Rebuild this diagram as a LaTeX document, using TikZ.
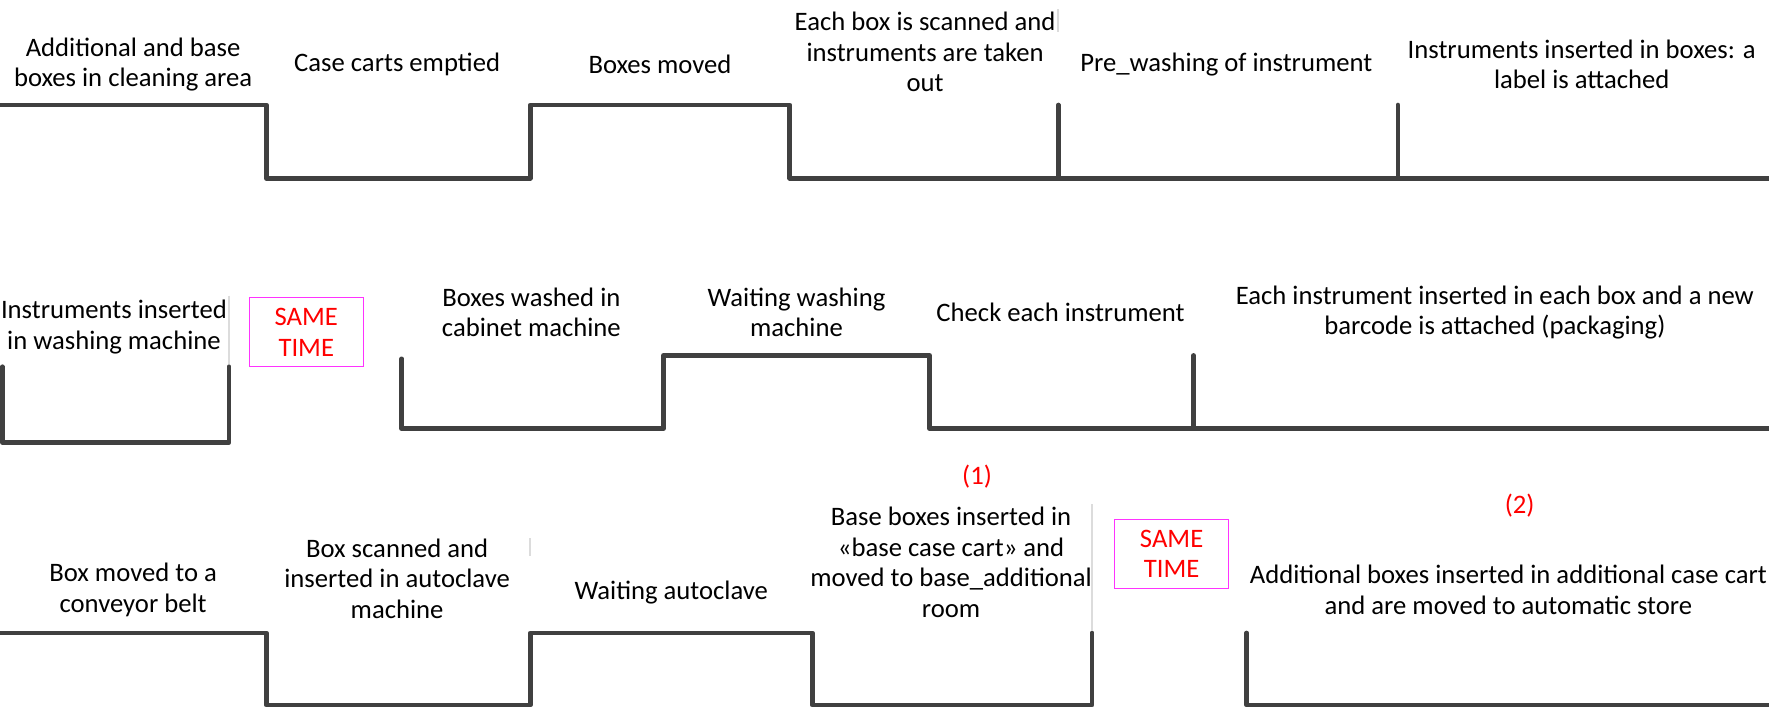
\documentclass[tikz,border=0pt]{standalone}
\usepackage{fontspec}
\setmainfont{Carlito}
\definecolor{wavec}{HTML}{404040}
\definecolor{faint}{HTML}{DCDCDC}
\definecolor{samered}{HTML}{FF0000}
\definecolor{sameborder}{HTML}{FF33FF}
\begin{document}
\begin{tikzpicture}[x=0.84615pt,y=-0.84615pt,
  wave/.style={draw=wavec,line width=3.4pt,line join=round,line cap=round},
  faintline/.style={draw=faint,line width=1.6pt},
  lbl/.style={align=center,inner sep=0pt,font=\fontsize{20pt}{22.85pt}\selectfont},
  redlbl/.style={align=center,inner sep=0pt,text=samered,font=\fontsize{20pt}{22.85pt}\selectfont},
  samebox/.style={draw=sameborder,line width=0.8pt,minimum width=101*0.84615pt,minimum height=61*0.84615pt,inner sep=0pt,align=center,text=samered,font=\fontsize{20pt}{22.85pt}\selectfont}]
\useasboundingbox (0,0) rectangle (1568,627);
% ---- row 1 ----
\draw[wave] (-5,93) -- (236,93) -- (236,158) -- (470,158) -- (470,93) -- (700,93) -- (700,158) -- (1575,158);
\draw[wave] (938,93) -- (938,158);
\draw[wave] (1239,93) -- (1239,158);
\draw[faintline] (938,8) -- (938,28);
\node[lbl] (a1) at (118,57) {Additional and base\\boxes in cleaning area};
\node[lbl] (a2) at (352,57) {Case carts emptied};
\node[lbl] (a3) at (585,57) {Boxes moved};
\node[lbl] (a4) at (820,46) {Each box is scanned and\\instruments are taken\\out};
\node[lbl] (a5) at (1087,57) {Pre\_washing of instrument};
\node[lbl] (a6) at (1402,57) {Instruments inserted in boxes: a\\label is attached};
% ---- row 2 ----
\draw[wave] (2,325) -- (2,392) -- (203,392) -- (203,325);
\draw[faintline] (203,262) -- (203,323);
\draw[wave] (356,318) -- (356,380) -- (588,380) -- (588,315) -- (824,315) -- (824,380) -- (1575,380);
\draw[wave] (1058,315) -- (1058,380);
\node[lbl] (b1) at (101,290) {Instruments inserted\\in washing machine};
\node[samebox] (s1) at (271.5,294.5) {SAME\\TIME};
\node[lbl] (b2) at (471,277) {Boxes washed in\\cabinet machine};
\node[lbl] (b3) at (706,277) {Waiting washing\\machine};
\node[lbl] (b4) at (940,277) {Check each instrument};
\node[lbl] (b5) at (1325,277) {Each instrument inserted in each box and a new\\barcode is attached (packaging)};
% ---- row 3 ----
\node[redlbl] (n1) at (866,422) {(1)};
\node[redlbl] (n2) at (1347,448) {(2)};
\draw[wave] (-5,561) -- (236,561) -- (236,625) -- (470,625) -- (470,561) -- (720,561) -- (720,625) -- (968,625) -- (968,561);
\draw[wave] (1105,561) -- (1105,625) -- (1575,625);
\draw[faintline] (968,447) -- (968,559);
\draw[faintline] (470,477) -- (470,493);
\node[lbl] (c1) at (118,523) {Box moved to a\\conveyor belt};
\node[lbl] (c2) at (352,513) {Box scanned and\\inserted in autoclave\\machine};
\node[lbl] (c3) at (595,525) {Waiting autoclave};
\node[lbl] (c4) at (843,498.5) {Base boxes inserted in\\«base case cart» and\\moved to base\_additional\\room};
\node[samebox] (s2) at (1038.5,491) {SAME\\TIME};
\node[lbl] (c5) at (1337,523) {Additional boxes inserted in additional case cart\\and are moved to automatic store};
\end{tikzpicture}
\end{document}
